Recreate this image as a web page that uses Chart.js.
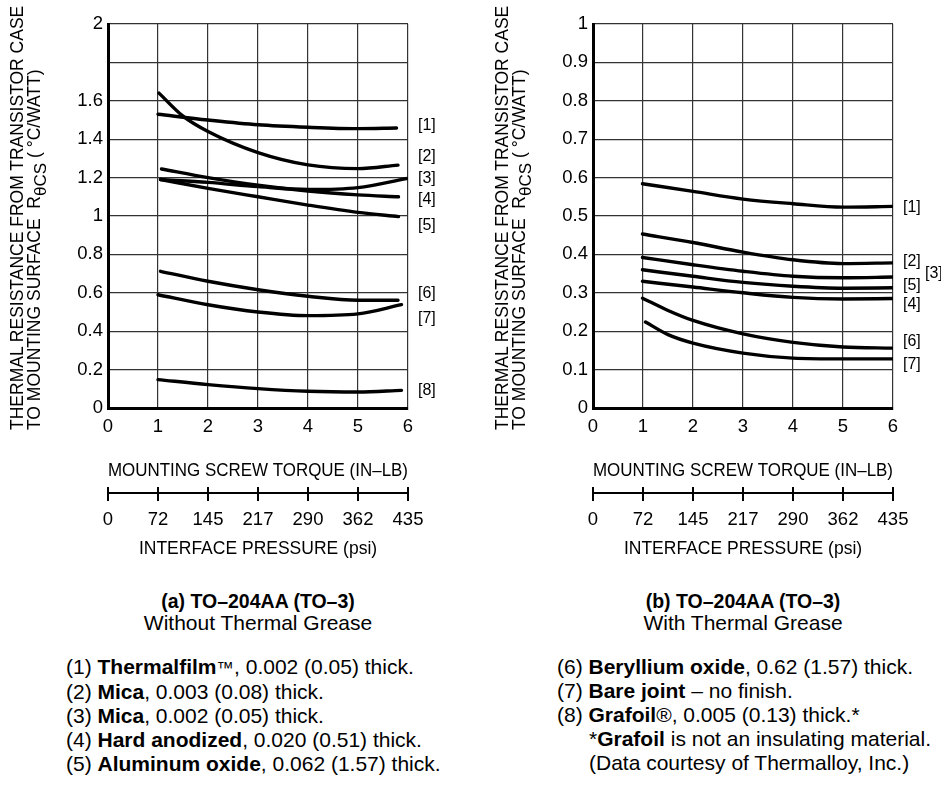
<!DOCTYPE html>
<html>
<head>
<meta charset="utf-8">
<script src="https://cdn.jsdelivr.net/npm/chart.js@4.4.1/dist/chart.umd.min.js"></script>
<style>
  html, body { margin: 0; padding: 0; background: #fff; overflow: hidden; }
  body { width: 941px; height: 786px; position: relative; font-family: "Liberation Sans", Arial, Helvetica, sans-serif; color: #000; }
  canvas { position: absolute; top: 0; }
  #chartA { left: 0; }
  #chartB { left: 485px; }
  .ytitle { position: absolute; top: 430px; transform-origin: 0 0; transform: rotate(-90deg); font-size: 17.5px; line-height: 17px; white-space: nowrap; }
  .ytitle sub { font-size: 17px; vertical-align: -6px; line-height: 0; }
  .caption { position: absolute; top: 590px; width: 300px; text-align: center; font-size: 21px; line-height: 22px; }
  .caption b { font-size: 19.5px; }
  .notes { position: absolute; top: 655px; font-size: 21px; line-height: 24px; white-space: nowrap; }
  .notes .ind { padding-left: 32px; }
</style>
</head>
<body>
<canvas id="chartA" width="470" height="560"></canvas>
<canvas id="chartB" width="456" height="560"></canvas>

<div class="ytitle" style="left:9px">THERMAL RESISTANCE FROM TRANSISTOR CASE<br>TO MOUNTING SURFACE&nbsp; R<sub>θCS</sub> ( °C/WATT)</div>
<div class="ytitle" style="left:494px">THERMAL RESISTANCE FROM TRANSISTOR CASE<br>TO MOUNTING SURFACE&nbsp; R<sub>θCS</sub> ( °C/WATT)</div>

<div class="caption" style="left:108px"><b>(a) TO–204AA (TO–3)</b><br>Without Thermal Grease</div>
<div class="caption" style="left:593px"><b>(b) TO–204AA (TO–3)</b><br>With Thermal Grease</div>

<div class="notes" style="left:66px">
  <div>(1) <b>Thermalfilm</b><small>™</small>, 0.002 (0.05) thick.</div>
  <div>(2) <b>Mica</b>, 0.003 (0.08) thick.</div>
  <div>(3) <b>Mica</b>, 0.002 (0.05) thick.</div>
  <div>(4) <b>Hard anodized</b>, 0.020 (0.51) thick.</div>
  <div>(5) <b>Aluminum oxide</b>, 0.062 (1.57) thick.</div>
</div>
<div class="notes" style="left:557px">
  <div>(6) <b>Beryllium oxide</b>, 0.62 (1.57) thick.</div>
  <div>(7) <b>Bare joint</b> – no finish.</div>
  <div>(8) <b>Grafoil</b>®, 0.005 (0.13) thick.*</div>
  <div class="ind">*<b>Grafoil</b> is not an insulating material.</div>
  <div class="ind">(Data courtesy of Thermalloy, Inc.)</div>
</div>

<script>
Chart.defaults.font.family = '"Liberation Sans", Arial, Helvetica, sans-serif';
Chart.defaults.color = "#000";

// (a) without thermal grease: torque (in-lb) / resistance (C/W)
const torqueA1 = [1, 2, 3, 4, 5, 5.77];
const rthA1 = [1.53, 1.50, 1.475, 1.462, 1.455, 1.458];
const torqueA2 = [1.02, 1.5, 2, 3, 4, 5, 5.8];
const rthA2 = [1.64, 1.52, 1.44, 1.33, 1.266, 1.247, 1.265];
const torqueA3 = [1.05, 2, 3, 4, 5, 5.97];
const rthA3 = [1.19, 1.175, 1.153, 1.138, 1.148, 1.195];
const torqueA4 = [1.07, 2, 3, 4, 5, 5.81];
const rthA4 = [1.245, 1.20, 1.16, 1.13, 1.11, 1.10];
const torqueA5 = [1.05, 2, 3, 4, 5, 5.81];
const rthA5 = [1.19, 1.144, 1.10, 1.057, 1.019, 0.997];
const torqueA6 = [1.05, 2, 3, 4, 5, 5.8];
const rthA6 = [0.712, 0.66, 0.616, 0.582, 0.561, 0.561];
const torqueA7 = [1, 2, 3, 4, 5, 5.87];
const rthA7 = [0.59, 0.538, 0.50, 0.481, 0.49, 0.538];
const torqueA8 = [1, 2, 3, 4, 5, 5.87];
const rthA8 = [0.148, 0.122, 0.101, 0.087, 0.083, 0.092];

// (b) with thermal grease
const torqueB = [0.99, 2, 3, 4, 5, 6];
const rthB1 = [0.584, 0.564, 0.544, 0.532, 0.523, 0.525];
const rthB2 = [0.453, 0.431, 0.406, 0.386, 0.376, 0.378];
const rthB3 = [0.392, 0.373, 0.356, 0.343, 0.339, 0.341];
const rthB4 = [0.330, 0.315, 0.300, 0.288, 0.284, 0.285];
const rthB5 = [0.360, 0.343, 0.327, 0.317, 0.312, 0.313];
const torqueB6 = [0.99, 1.5, 2, 3, 4, 5, 6];
const rthB6 = [0.286, 0.254, 0.228, 0.193, 0.171, 0.159, 0.156];
const torqueB7 = [1.05, 1.5, 2, 3, 4, 5, 6];
const rthB7 = [0.224, 0.191, 0.169, 0.143, 0.130, 0.128, 0.128];

// curve tags at the right of each plot
const tagsA = ["[1]", "[2]", "[3]", "[4]", "[5]", "[6]", "[7]", "[8]"];
const tagValA = [1.47, 1.31, 1.193, 1.083, 0.948, 0.594, 0.464, 0.089];
const tagsB = ["[1]", "[2]", "[3]", "[5]", "[4]", "[6]", "[7]"];
const tagValB = [0.523, 0.380, 0.349, 0.320, 0.268, 0.172, 0.112];

// axis tick labels
const yLabelsA = ["0", "0.2", "0.4", "0.6", "0.8", "1", "1.2", "1.4", "1.6", "", "2"];
const yLabelsB = ["0", "0.1", "0.2", "0.3", "0.4", "0.5", "0.6", "0.7", "0.8", "0.9", "1"];
const torqueLabels = ["0", "1", "2", "3", "4", "5", "6"];
const pressureLabels = ["0", "72", "145", "217", "290", "362", "435"];

function toPoints(xs, ys) {
  return xs.map((x, i) => ({ x: x, y: ys[i] }));
}

function curve(xs, ys) {
  return {
    data: toPoints(xs, ys),
    borderColor: "#000",
    borderWidth: 3.4,
    borderCapStyle: "round",
    pointRadius: 0,
    fill: false,
    cubicInterpolationMode: "monotone",
  };
}

// draws the [n] tags and the tick marks across the pressure axis
const tagPlugin = {
  id: "tags",
  afterDraw(chart, args, opts) {
    const ctx = chart.ctx;
    const area = chart.chartArea;
    const y = chart.scales.y;
    ctx.save();
    ctx.fillStyle = "#000";
    ctx.font = '16px "Liberation Sans", Arial, sans-serif';
    ctx.textAlign = "left";
    ctx.textBaseline = "middle";
    for (let i = 0; i < opts.text.length; i++) {
      let dx = opts.shift[i] || 0;
      ctx.fillText(opts.text[i], area.right + 10 + dx, y.getPixelForValue(opts.at[i]));
    }

    const p = chart.scales.x2;
    ctx.strokeStyle = "#000";
    ctx.lineWidth = 2;
    ctx.beginPath();
    p.ticks.forEach(function (t) {
      let px = Math.round(p.getPixelForValue(t.value));
      ctx.moveTo(px, p.top + 1 - 7);
      ctx.lineTo(px, p.top + 1 + 7);
    });
    ctx.stroke();
    ctx.restore();
  },
};

function plotChart(id, series, yMax, yStep, yLabels, tagText, tagAt, tagShift, padRight) {
  return new Chart(document.getElementById(id), {
    type: "line",
    data: { datasets: series },
    plugins: [tagPlugin],
    options: {
      responsive: false,
      animation: false,
      layout: { padding: { left: 0, right: padRight, top: 24, bottom: 0 } },
      plugins: {
        legend: { display: false },
        tooltip: { enabled: false },
        tags: { text: tagText, at: tagAt, shift: tagShift },
      },
      scales: {
        x: {
          type: "linear",
          min: 0,
          max: 6,
          ticks: {
            stepSize: 1,
            padding: 8,
            font: { size: 18.5 },
            callback: (v, i) => torqueLabels[i],
          },
          grid: { color: "#333", lineWidth: 1.2, drawTicks: false },
          border: { color: "#000", width: 3 },
          title: {
            display: true,
            text: "MOUNTING SCREW TORQUE (IN–LB)",
            font: { size: 17.5 },
            padding: { top: 0, bottom: 11 },
          },
          afterFit: (s) => { s.height = 85; },
        },
        x2: {
          type: "linear",
          position: "bottom",
          min: 0,
          max: 6,
          ticks: {
            stepSize: 1,
            padding: 16,
            font: { size: 18.5 },
            callback: (v, i) => pressureLabels[i],
          },
          grid: { display: false, drawTicks: false },
          border: { display: true, color: "#000", width: 2 },
          title: {
            display: true,
            text: "INTERFACE PRESSURE (psi)",
            font: { size: 17.5 },
            padding: { top: 0, bottom: 0 },
          },
          afterFit: (s) => { s.height = 67; },
        },
        y: {
          min: 0,
          max: yMax,
          ticks: {
            stepSize: yStep,
            padding: 5,
            font: { size: 18.5 },
            callback: (v, i) => yLabels[i],
          },
          grid: { color: "#333", lineWidth: 1.2, drawTicks: false },
          border: { color: "#000", width: 3 },
          afterFit: (s) => { s.width = 108; },
        },
      },
    },
  });
}

plotChart("chartA", [
  curve(torqueA1, rthA1),
  curve(torqueA2, rthA2),
  curve(torqueA3, rthA3),
  curve(torqueA4, rthA4),
  curve(torqueA5, rthA5),
  curve(torqueA6, rthA6),
  curve(torqueA7, rthA7),
  curve(torqueA8, rthA8),
], 2, 0.2, yLabelsA, tagsA, tagValA, [], 62);

plotChart("chartB", [
  curve(torqueB, rthB1),
  curve(torqueB, rthB2),
  curve(torqueB, rthB3),
  curve(torqueB, rthB4),
  curve(torqueB, rthB5),
  curve(torqueB6, rthB6),
  curve(torqueB7, rthB7),
], 1, 0.1, yLabelsB, tagsB, tagValB, [0, 0, 22, 0, 0, 0, 0], 48);
</script>
</body>
</html>
